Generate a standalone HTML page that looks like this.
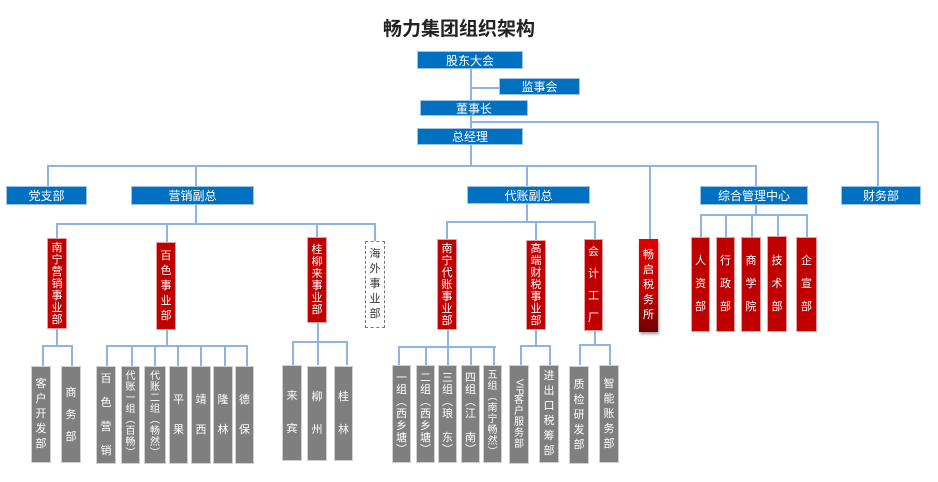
<!DOCTYPE html>
<html><head><meta charset="utf-8">
<style>
body{margin:0;width:938px;height:482px;background:#fff;position:relative;overflow:hidden;font-family:"Liberation Sans","Noto Sans CJK SC",sans-serif;}
.a{position:absolute;box-sizing:border-box;}
.b{background:#0070c0;color:#fff;font-size:12px;display:flex;align-items:center;justify-content:center;border:1px solid #9dc3e6;}
.r,.g,.d{display:flex;flex-direction:column;align-items:center;justify-content:center;color:#fff;font-size:11px;line-height:12px;}
.r{background:#c00000;border:1px solid #e6a0a0;}
.g{background:#7f7f7f;border:1px solid #d0d0d0;line-height:12px;}
.s{font-size:10px;line-height:11px;}
.d{border:1.5px dashed #777;color:#333;}
.h{position:absolute;height:2px;background:#8db4e2;}
.v{position:absolute;width:2px;background:#8db4e2;}
</style></head><body>
<div class="a" style="left:383px;top:14px;width:160px;font-size:19px;font-weight:bold;color:#222;">畅力集团组织架构</div>

<div class="v" style="left:470px;top:69px;height:97px;"></div>
<div class="h" style="left:470px;top:87px;width:30px;"></div>
<div class="h" style="left:470px;top:121px;width:409px;"></div>
<div class="v" style="left:877px;top:121px;height:65px;"></div>
<div class="h" style="left:47px;top:165px;width:710px;"></div>
<div class="v" style="left:47px;top:165px;height:21px;"></div>
<div class="v" style="left:195px;top:165px;height:21px;"></div>
<div class="v" style="left:526px;top:165px;height:21px;"></div>
<div class="v" style="left:649px;top:165px;height:74px;"></div>
<div class="v" style="left:755px;top:165px;height:21px;"></div>

<div class="a b" style="left:417px;top:51px;width:106px;height:18px;">股东大会</div>
<div class="a b" style="left:499px;top:78px;width:81px;height:17px;">监事会</div>
<div class="a b" style="left:420px;top:100px;width:108px;height:16px;">董事长</div>
<div class="a b" style="left:417px;top:128px;width:106px;height:17px;">总经理</div>

<div class="a b" style="left:6px;top:186px;width:81px;height:19px;">党支部</div>
<div class="a b" style="left:131px;top:186px;width:123px;height:19px;">营销副总</div>
<div class="a b" style="left:467px;top:186px;width:123px;height:18px;">代账副总</div>
<div class="a b" style="left:700px;top:186px;width:108px;height:19px;">综合管理中心</div>
<div class="a b" style="left:841px;top:186px;width:80px;height:19px;">财务部</div>

<div class="v" style="left:195px;top:205px;height:19px;"></div>
<div class="h" style="left:56px;top:223px;width:320px;"></div>
<div class="v" style="left:56px;top:223px;height:15px;"></div>
<div class="v" style="left:166px;top:223px;height:19px;"></div>
<div class="v" style="left:316px;top:223px;height:14px;"></div>
<div class="v" style="left:374px;top:223px;height:18px;"></div>
<div class="v" style="left:526px;top:204px;height:18px;"></div>
<div class="h" style="left:446px;top:221px;width:150px;"></div>
<div class="v" style="left:446px;top:221px;height:18px;"></div>
<div class="v" style="left:535px;top:221px;height:19px;"></div>
<div class="v" style="left:594px;top:221px;height:18px;"></div>
<div class="v" style="left:755px;top:205px;height:10px;"></div>
<div class="h" style="left:700px;top:214px;width:108px;"></div>
<div class="v" style="left:700px;top:214px;height:23px;"></div>
<div class="v" style="left:725px;top:214px;height:23px;"></div>
<div class="v" style="left:751px;top:214px;height:23px;"></div>
<div class="v" style="left:777px;top:214px;height:23px;"></div>
<div class="v" style="left:806px;top:214px;height:23px;"></div>

<div class="a r" style="left:47px;top:238px;width:20px;height:91px;">南<br>宁<br>营<br>销<br>事<br>业<br>部</div>
<div class="a r" style="left:156px;top:242px;width:20px;height:88px;line-height:15px;">百<br>色<br>事<br>业<br>部</div>
<div class="a r" style="left:307px;top:237px;width:20px;height:86px;">桂<br>柳<br>来<br>事<br>业<br>部</div>
<div class="a d" style="left:365px;top:241px;width:20px;height:87px;line-height:15px;">海<br>外<br>事<br>业<br>部</div>
<div class="a r" style="left:437px;top:239px;width:20px;height:91px;">南<br>宁<br>代<br>账<br>事<br>业<br>部</div>
<div class="a r" style="left:526px;top:240px;width:20px;height:90px;">高<br>端<br>财<br>税<br>事<br>业<br>部</div>
<div class="a r" style="left:584px;top:239px;width:19px;height:92px;line-height:22px;">会<br>计<br>工<br>厂</div>
<div class="a r" style="left:639px;top:239px;width:19px;height:93px;line-height:15px;background:linear-gradient(#e00000,#c00000 60%,#700000);border:none;box-shadow:1px 2px 3px #999;">畅<br>启<br>税<br>务<br>所</div>
<div class="a r" style="left:691px;top:237px;width:19px;height:95px;line-height:23px;">人<br>资<br>部</div>
<div class="a r" style="left:716px;top:237px;width:19px;height:95px;line-height:23px;">行<br>政<br>部</div>
<div class="a r" style="left:741px;top:237px;width:20px;height:95px;line-height:23px;">商<br>学<br>院</div>
<div class="a r" style="left:767px;top:236px;width:20px;height:96px;line-height:23px;">技<br>术<br>部</div>
<div class="a r" style="left:796px;top:237px;width:21px;height:95px;line-height:23px;">企<br>宣<br>部</div>

<div class="v" style="left:56px;top:329px;height:17px;"></div>
<div class="h" style="left:42px;top:345px;width:31px;"></div>
<div class="v" style="left:42px;top:345px;height:21px;"></div>
<div class="v" style="left:71px;top:345px;height:21px;"></div>
<div class="v" style="left:166px;top:330px;height:16px;"></div>
<div class="h" style="left:106px;top:345px;width:142px;"></div>
<div class="v" style="left:106px;top:345px;height:21px;"></div>
<div class="v" style="left:131px;top:345px;height:21px;"></div>
<div class="v" style="left:154px;top:345px;height:21px;"></div>
<div class="v" style="left:177px;top:345px;height:21px;"></div>
<div class="v" style="left:200px;top:345px;height:21px;"></div>
<div class="v" style="left:224px;top:345px;height:21px;"></div>
<div class="v" style="left:246px;top:345px;height:21px;"></div>
<div class="v" style="left:317px;top:323px;height:42px;"></div>
<div class="h" style="left:292px;top:341px;width:56px;"></div>
<div class="v" style="left:292px;top:341px;height:24px;"></div>
<div class="v" style="left:346px;top:341px;height:24px;"></div>
<div class="v" style="left:447px;top:330px;height:17px;"></div>
<div class="h" style="left:398px;top:346px;width:98px;"></div>
<div class="v" style="left:398px;top:346px;height:19px;"></div>
<div class="v" style="left:425px;top:346px;height:19px;"></div>
<div class="v" style="left:447px;top:346px;height:19px;"></div>
<div class="v" style="left:470px;top:346px;height:19px;"></div>
<div class="v" style="left:493px;top:346px;height:19px;"></div>
<div class="v" style="left:535px;top:330px;height:16px;"></div>
<div class="h" style="left:520px;top:345px;width:31px;"></div>
<div class="v" style="left:520px;top:345px;height:20px;"></div>
<div class="v" style="left:549px;top:345px;height:20px;"></div>
<div class="v" style="left:594px;top:331px;height:14px;"></div>
<div class="h" style="left:579px;top:344px;width:32px;"></div>
<div class="v" style="left:579px;top:344px;height:21px;"></div>
<div class="v" style="left:609px;top:344px;height:21px;"></div>

<div class="a g" style="left:31px;top:366px;width:20px;height:97px;line-height:15px;">客<br>户<br>开<br>发<br>部</div>
<div class="a g" style="left:61px;top:366px;width:20px;height:97px;line-height:22px;">商<br>务<br>部</div>
<div class="a g" style="left:96px;top:366px;width:20px;height:98px;line-height:24px;">百<br>色<br>营<br>销</div>
<div class="a g s" style="left:121px;top:366px;width:19px;height:98px;">代<br>账<br>一<br>组<br>︵<br>百<br>畅<br>︶</div>
<div class="a g s" style="left:144px;top:366px;width:22px;height:98px;">代<br>账<br>二<br>组<br>︵<br>畅<br>然<br>︶</div>
<div class="a g" style="left:169px;top:366px;width:19px;height:98px;line-height:30px;">平<br>果</div>
<div class="a g" style="left:191px;top:366px;width:20px;height:98px;line-height:30px;">靖<br>西</div>
<div class="a g" style="left:213px;top:366px;width:20px;height:98px;line-height:30px;">隆<br>林</div>
<div class="a g" style="left:235px;top:366px;width:19px;height:98px;line-height:30px;">德<br>保</div>
<div class="a g" style="left:282px;top:365px;width:20px;height:96px;line-height:33px;">来<br>宾</div>
<div class="a g" style="left:307px;top:366px;width:20px;height:95px;line-height:33px;">柳<br>州</div>
<div class="a g" style="left:334px;top:366px;width:19px;height:95px;line-height:33px;">桂<br>林</div>
<div class="a g" style="left:392px;top:365px;width:19px;height:98px;">一<br>组<br>︵<br>西<br>乡<br>塘<br>︶</div>
<div class="a g" style="left:416px;top:365px;width:19px;height:98px;">二<br>组<br>︵<br>西<br>乡<br>塘<br>︶</div>
<div class="a g" style="left:438px;top:365px;width:19px;height:98px;">三<br>组<br>︵<br>琅<br>　<br>东<br>︶</div>
<div class="a g" style="left:461px;top:365px;width:19px;height:98px;">四<br>组<br>︵<br>江<br>　<br>南<br>︶</div>
<div class="a g s" style="left:483px;top:365px;width:19px;height:98px;">五<br>组<br>︵<br>南<br>宁<br>畅<br>然<br>︶</div>
<div class="a g s" style="left:509px;top:365px;width:20px;height:99px;"><span style="writing-mode:vertical-rl;line-height:11px;">VIP</span>客<br>户<br>服<br>务<br>部</div>
<div class="a g" style="left:539px;top:365px;width:20px;height:98px;line-height:15px;">进<br>出<br>口<br>税<br>筹<br>部</div>
<div class="a g" style="left:569px;top:366px;width:20px;height:98px;line-height:15px;">质<br>检<br>研<br>发<br>部</div>
<div class="a g" style="left:599px;top:365px;width:20px;height:98px;line-height:15px;">智<br>能<br>账<br>务<br>部</div>
</body></html>
